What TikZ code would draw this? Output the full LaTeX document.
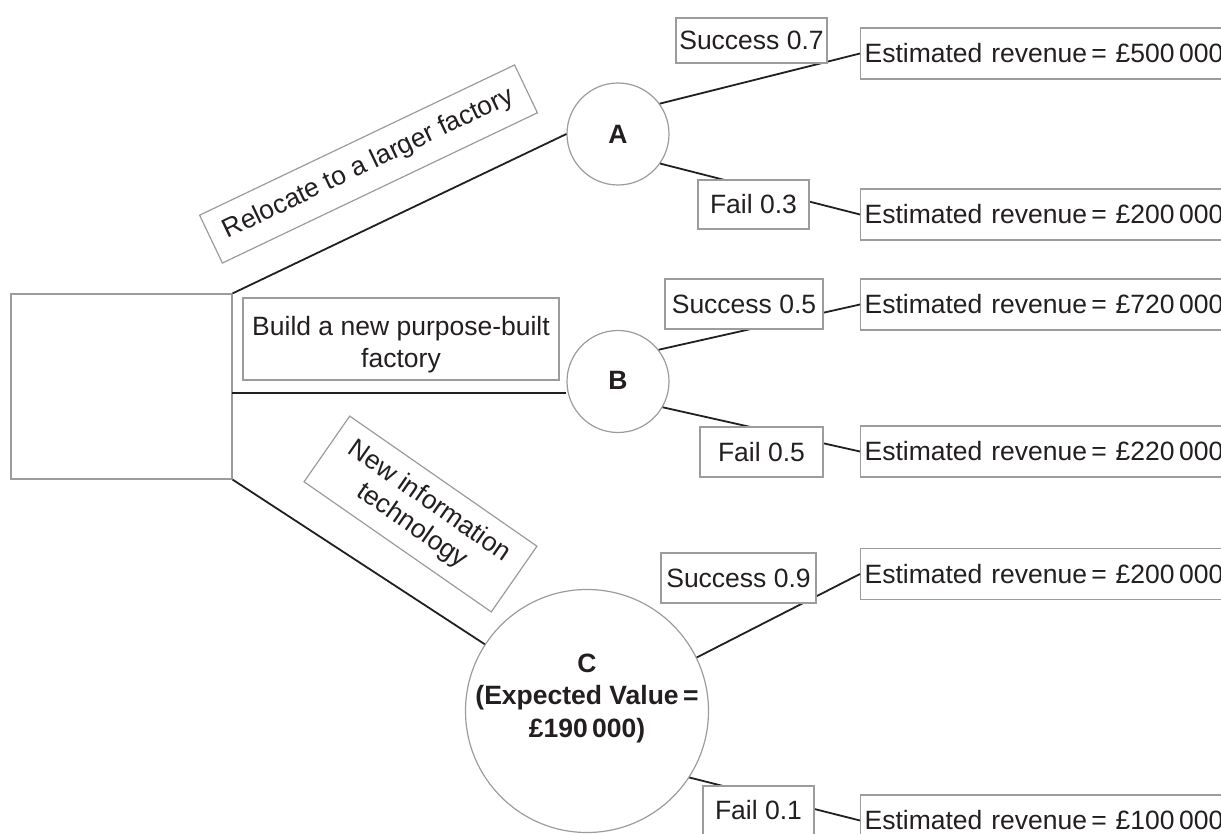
\documentclass[tikz,border=0pt]{standalone}
\usepackage{fontspec}
\setmainfont{Liberation Sans}
\definecolor{ink}{HTML}{231F20}
\definecolor{edge}{HTML}{9C9C9C}
\begin{document}
\begin{tikzpicture}[x=1pt,y=-1pt,
  every node/.style={font=\fontsize{26.5}{30}\selectfont, text=ink},
  box/.style={draw=edge, line width=1.2pt, fill=white, inner sep=0pt},
  chance/.style={circle, draw=edge, line width=1.2pt, fill=white, inner sep=0pt},
  boldtxt/.style={font=\fontsize{26.5}{32.5}\selectfont\bfseries, align=center, inner sep=0pt},
  conn/.style={draw=ink, line width=1.8pt},
  revbox/.style={box, anchor=west, minimum height=51pt, text width=390pt, align=left, inner xsep=4pt},
]
\useasboundingbox (0,0) rectangle (1221,834);

% decision box and chance nodes
\node[box, minimum width=221pt, minimum height=185pt] (root) at (121.5,386.5) {};
\node[chance, minimum size=102pt] (A) at (618,134) {};
\node[boldtxt] (Atxt) at (618,134) {A};
\node[chance, minimum size=102pt] (B) at (618,381.5) {};
\node[boldtxt] (Btxt) at (618,380) {B};
\node[chance, minimum size=243pt] (C) at (587,711) {};
\node[boldtxt] (Ctxt) at (587,698) {C\\(Expected Value\,=\\£190\,000)};

% outcome boxes
\node[revbox] (r1) at (860,53.5) {Estimated revenue\,= £500\,000};
\node[revbox] (r2) at (860,214.5) {Estimated revenue\,= £200\,000};
\node[revbox] (r3) at (860,304.5) {Estimated revenue\,= £720\,000};
\node[revbox] (r4) at (860,451.5) {Estimated revenue\,= £220\,000};
\node[revbox] (r5) at (860,574) {Estimated revenue\,= £200\,000};
\node[revbox] (r6) at (860,820.5) {Estimated revenue\,= £100\,000};

% connectors
\coordinate (rootB) at (232,393);
\draw[conn] (root.north east) -- (A.west);
\draw[conn] (rootB) -- (rootB -| B.west);
\draw[conn] (root.south east) -- (C);
\draw[conn] (A.36) -- (r1.west);
\draw[conn] (A.-35) -- (r2.west);
\draw[conn] (B.38) -- (r3.west);
\draw[conn] (B.-30) -- (r4.west);
\draw[conn] (C.26) -- (r5.west);
\draw[conn] (C.-33) -- (r6.west);

% probability labels
\node[box, minimum width=151pt, minimum height=45pt] (p1) at (751.5,40.5) {Success 0.7};
\node[box, minimum width=111pt, minimum height=49pt] (p2) at (753.5,204.5) {Fail 0.3};
\node[box, minimum width=158pt, minimum height=50pt] (p3) at (744,304) {Success 0.5};
\node[box, minimum width=123pt, minimum height=50pt] (p4) at (761.5,452) {Fail 0.5};
\node[box, minimum width=155pt, minimum height=50pt] (p5) at (738.5,578) {Success 0.9};
\node[box, minimum width=111pt, minimum height=49pt] (p6) at (758.5,810.5) {Fail 0.1};

% branch labels
\node[box, minimum width=316pt, minimum height=82pt, align=center, font=\fontsize{26.5}{32}\selectfont] (lb) at (401,339) {\rule{0pt}{29.5pt}Build a new purpose-built\\factory};
\node[box, rotate=25.5, minimum width=349pt, minimum height=53pt] (lr) at (368.5,164) {Relocate to a larger factory};
\node[box, rotate=-34.8, minimum width=228pt, minimum height=80pt, align=center] (ln) at (420.5,514) {New information\\technology};
\end{tikzpicture}
\end{document}
